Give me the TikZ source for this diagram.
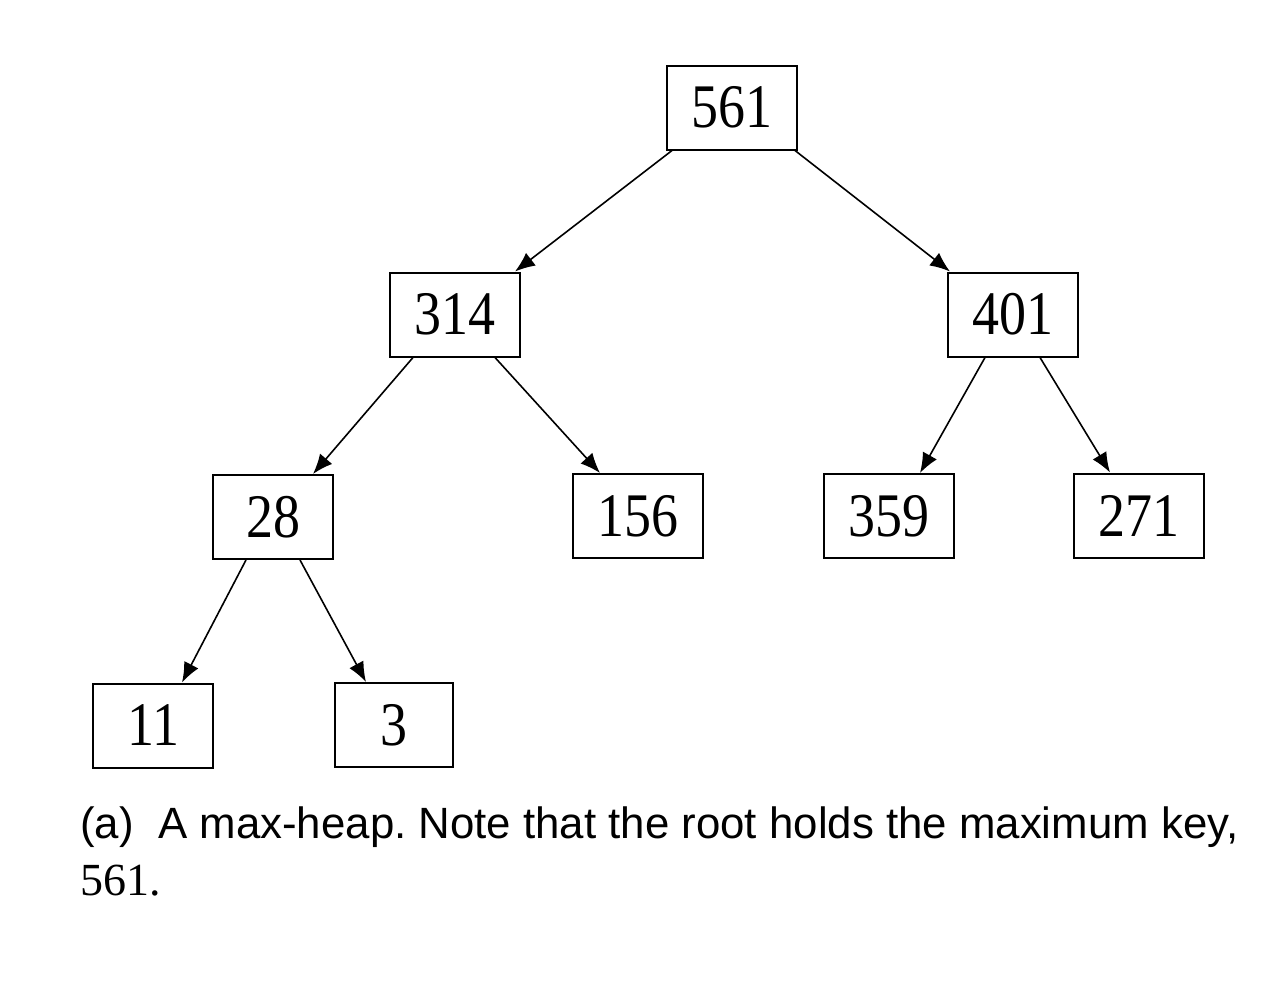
\documentclass[tikz,border=0pt]{standalone}
\usepackage{fontspec}
\setmainfont{Liberation Serif}
\newfontfamily\capfont{Liberation Sans}
\usetikzlibrary{arrows.meta,calc}
\frenchspacing
\tikzset{
  key/.style={draw, line width=1pt, inner sep=0pt, minimum height=42pt, minimum width=65pt,
    font=\fontsize{31}{37}\selectfont},
  shortkey/.style={key, minimum width=60pt},
  edge/.style={line width=0.8pt, -{Latex[length=10pt,width=8pt]}},
  caption/.style={anchor=base west, inner sep=0pt},
}
\newcommand{\num}[1]{\scalebox{0.87}[1]{#1}}
\begin{document}
\begin{tikzpicture}[x=0.5pt,y=-0.5pt]
\useasboundingbox (0,0) rectangle (1286,992);
\node[key] (n561) at (732,107.5) {\num{561}};
\node[key] (n314) at (455,314.5) {\num{314}};
\node[key] (n401) at (1013,314.5) {\num{401}};
\node[shortkey] (n28) at (273,517) {\num{28}};
\node[key] (n156) at (638,516) {\num{156}};
\node[key] (n359) at (889,516) {\num{359}};
\node[key] (n271) at (1139,515.5) {\num{271}};
\node[shortkey] (n11) at (153,725.5) {\num{11}};
\node[shortkey, minimum width=59pt] (n3) at (394,725) {\num{3}};

\draw[edge] ($(n561.south)+(-60,0)$) -- ($(n314.north)+(60,0)$);
\draw[edge] ($(n561.south)+(63,0)$) -- ($(n401.north)+(-63,0)$);
\draw[edge] ($(n314.south)+(-42,0)$) -- ($(n28.north)+(40,0)$);
\draw[edge] ($(n314.south)+(40,0)$) -- ($(n156.north)+(-38,0)$);
\draw[edge] ($(n401.south)+(-28,0)$) -- ($(n359.north)+(31,0)$);
\draw[edge] ($(n401.south)+(27,0)$) -- ($(n271.north)+(-29,0)$);
\draw[edge] ($(n28.south)+(-27,0)$) -- ($(n11.north)+(29,0)$);
\draw[edge] ($(n28.south)+(27,0)$) -- ($(n3.north)+(-28,0)$);

\node[caption, font=\capfont\fontsize{18}{22}\selectfont] (cap1) at (80,838)
  {\resizebox{579pt}{!}{(a)\ \ A max-heap. Note that the root holds the maximum key,}};
\node[caption, font=\fontsize{23}{27}\selectfont] (cap2) at (80,895)
  {561.};
\end{tikzpicture}
\end{document}
